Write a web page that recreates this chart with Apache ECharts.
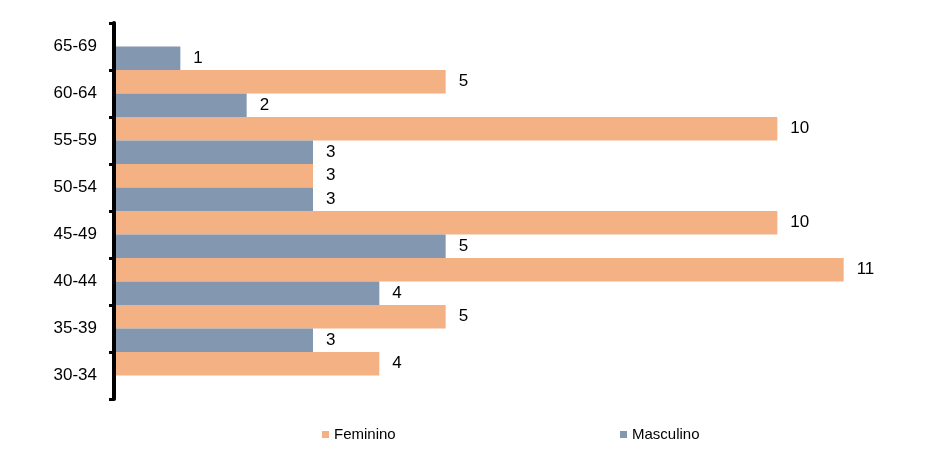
<!DOCTYPE html>
<html><head><meta charset="utf-8">
<script src="https://cdn.jsdelivr.net/npm/echarts@6/dist/echarts.min.js"></script>
<style>html,body{margin:0;padding:0;background:#fff}#c{width:937px;height:464px}</style>
</head><body><div id="c"></div>
<script>
const categories = ['30-34','35-39','40-44','45-49','50-54','55-59','60-64','65-69'];
const feminino = [4,5,11,10,3,10,5,0];
const masculino = [0,3,4,5,3,3,2,1];

const chart = echarts.init(document.getElementById('c'));
const font = 'Liberation Sans, Arial, sans-serif';
const lbl = {show:true, position:'right', distance:13, color:'#000', fontSize:17, fontFamily:font,
  formatter: p => p.value === 0 ? '' : p.value};
chart.setOption({
  animation:false,
  grid:{left:114, top:23, bottom:65, width:796},
  legend:[
    {data:['Feminino'], left:317, top:422, itemWidth:7, itemHeight:7, icon:'rect', itemGap:5,
     textStyle:{fontSize:15, fontFamily:font, color:'#000'}},
    {data:['Masculino'], left:615, top:422, itemWidth:7, itemHeight:7, icon:'rect', itemGap:5,
     textStyle:{fontSize:15, fontFamily:font, color:'#000'}}
  ],
  xAxis:{type:'value', min:0, max:12, show:false},
  yAxis:{type:'category', data:categories, offset:3, z:10,
    axisLine:{show:true, lineStyle:{color:'#000', width:4}},
    axisTick:{show:true, length:5, lineStyle:{color:'#000', width:3}},
    axisLabel:{color:'#000', fontSize:17, fontFamily:font, margin:14},
    splitLine:{show:false}},
  series:[
    {name:'Feminino', type:'bar', data:feminino, barGap:'0%', barCategoryGap:'0%',
     itemStyle:{color:'#F4B183'}, label:lbl},
    {name:'Masculino', type:'bar', data:masculino, barGap:'0%', barCategoryGap:'0%',
     itemStyle:{color:'#8497B0'}, label:lbl}
  ]
});
</script></body></html>
